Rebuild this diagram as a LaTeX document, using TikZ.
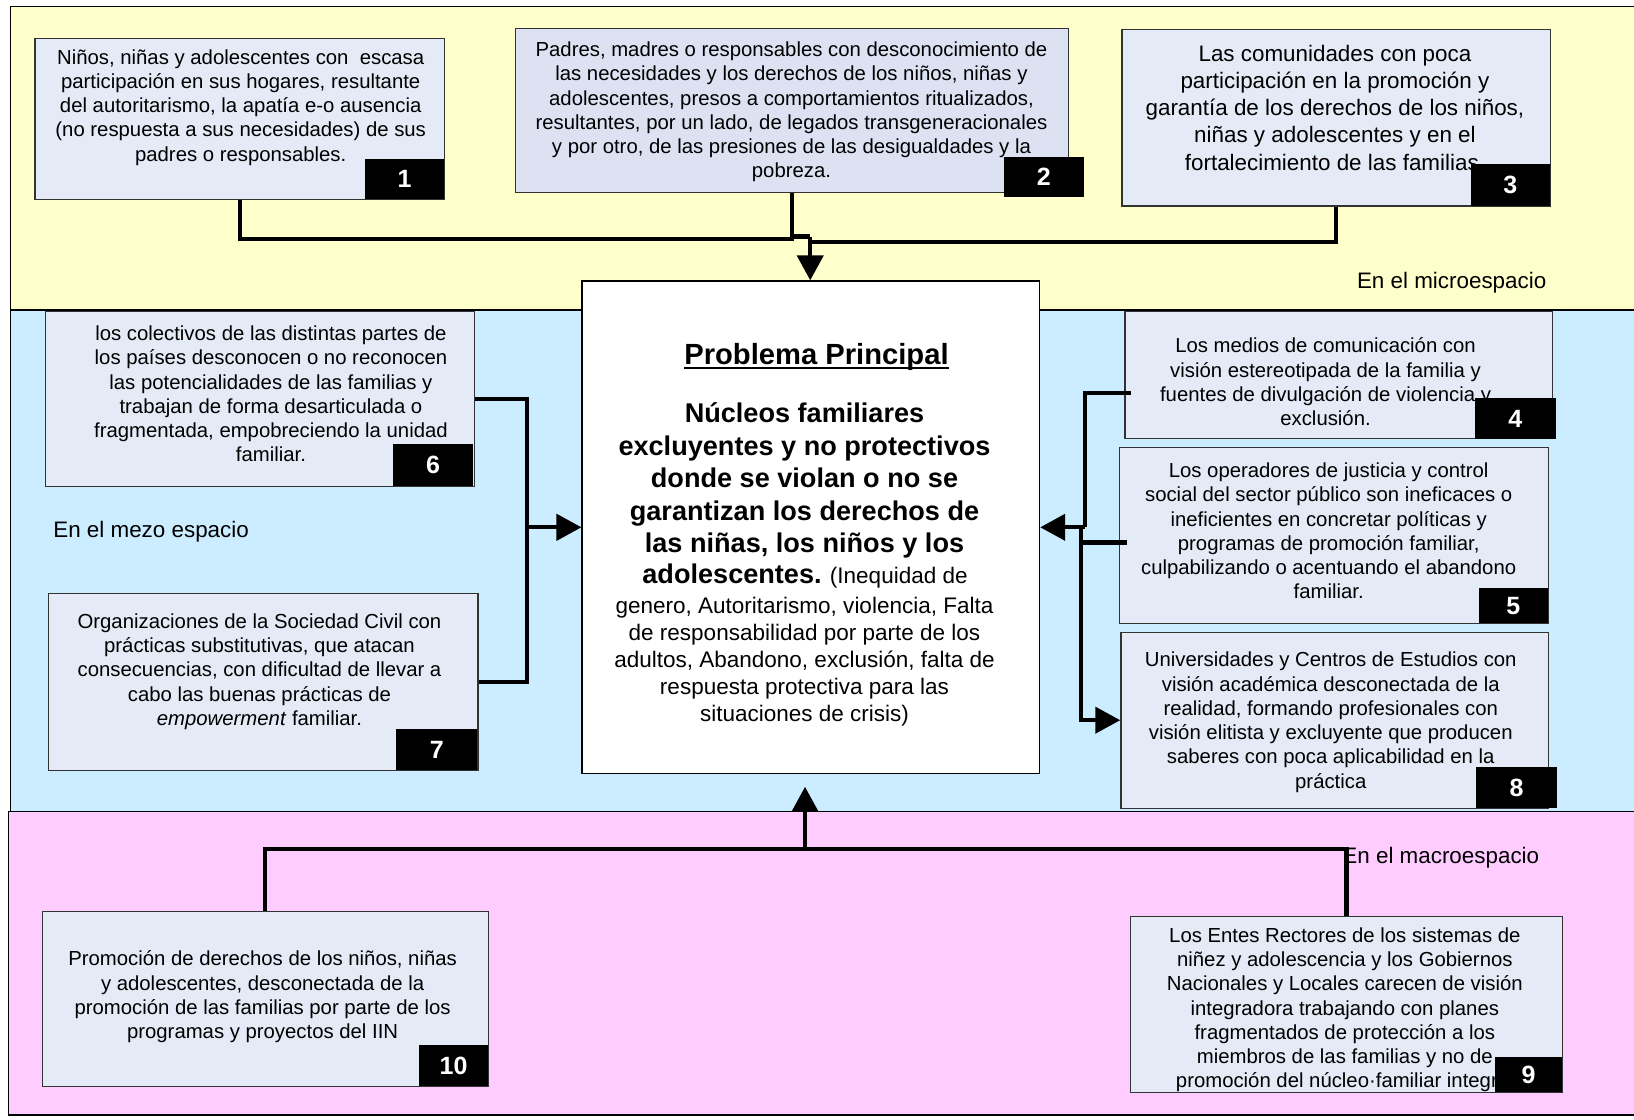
\documentclass[tikz,border=0pt]{standalone}
\usepackage{fontspec}
\setmainfont{Liberation Sans}
\usetikzlibrary{arrows.meta}
\definecolor{bandY}{RGB}{255,255,204}
\definecolor{bandB}{RGB}{204,236,255}
\definecolor{bandP}{RGB}{255,204,255}
\definecolor{boxfill}{RGB}{228,234,246}
\definecolor{boxfillB}{RGB}{221,226,243}
\begin{document}
\begin{tikzpicture}[x=1pt,y=-1pt,
  band/.style={draw=black,line width=1.2pt},
  cbox/.style={draw=black!80,line width=1.2pt,fill=boxfill,inner sep=0pt,anchor=north west},
  numbox/.style={fill=black,text=white,font=\fontsize{24}{24}\selectfont\bfseries,inner sep=0pt,anchor=north west},
  txt/.style={align=center,inner sep=0pt,font=\fontsize{19.5}{23.3}\selectfont},
  bigtxt/.style={align=center,inner sep=0pt,font=\fontsize{21.5}{26}\selectfont},
  lbl/.style={inner sep=0pt,anchor=base west,font=\fontsize{21.5}{26}\selectfont},
  conn/.style={line width=4pt,line join=miter},
  arr/.style={-{Triangle[length=24pt,width=25pt]}},
]
\useasboundingbox (0,0) rectangle (1568,1074);
% bands
\path[band,fill=bandY] (10,6) rectangle (1590,297.5);
\path[band,fill=bandB] (10,297.5) rectangle (1590,779);
\path[band,fill=bandP] (8,779) rectangle (1590,1070);

% boxes
\node[cbox,minimum width=393pt,minimum height=155pt] (b1) at (33,36) {};
\node[cbox,fill=boxfillB,minimum width=531pt,minimum height=157pt] (b2) at (494,27) {};
\node[cbox,minimum width=411pt,minimum height=169pt] (b3) at (1076,28) {};
\node[cbox,minimum width=410pt,minimum height=122.5pt] (b4) at (1079,298) {};
\node[cbox,minimum width=411pt,minimum height=169pt] (b5) at (1074,429) {};
\node[cbox,minimum width=412pt,minimum height=168pt] (b6) at (43,298) {};
\node[cbox,minimum width=412pt,minimum height=170pt] (b7) at (46,569) {};
\node[cbox,minimum width=410pt,minimum height=169pt] (b8) at (1075,606) {};
\node[cbox,minimum width=415pt,minimum height=169pt] (b9) at (1084,879) {};
\node[cbox,minimum width=428pt,minimum height=168pt] (b10) at (40,874) {};
\node[cbox,fill=white,draw=black,minimum width=439pt,minimum height=472.5pt] (pp) at (558,269) {};

% labels
\node[lbl] (lmicro) at (1302,277) {En el microespacio};
\node[lbl] (lmezo) at (51,516) {En el mezo espacio};
\node[lbl] (lmacro) at (1288,829) {En el macroespacio};

% connectors
\coordinate (tL) at (761.5,229.5);
\coordinate (tJ) at (777.5,227);
\coordinate (tR) at (775.5,232);
\draw[conn] (b1.south) |- (tL);
\draw[conn] (b2.south) |- (tJ);
\draw[conn] (b3.south) |- (tR);
\draw[conn,arr] (tJ) -- (tJ |- pp.north);

\coordinate (lJ) at (506,506);
\draw[conn] (b6.east) -| (lJ);
\draw[conn] (b7.east) -| (lJ);
\draw[conn,arr] (lJ) -- (lJ -| pp.west);

\coordinate (rJ) at (1041,506);
\coordinate (rK) at (1037,506);
\coordinate (r4) at ([yshift=-17pt,xshift=6pt]b4.west);
\coordinate (r5) at ([yshift=-6.5pt,xshift=7pt]b5.west);
\draw[conn] (r4) -| (rJ);
\draw[conn,arr] (rJ) -- (rJ -| pp.east);
\draw[conn] (r5) -| (rK);
\draw[conn,arr] (rK) |- (b8.west);

\coordinate (mJ) at (772.5,815);
\coordinate (mT) at (772.5,755);
\draw[conn] (b10.north) |- (mJ);
\draw[conn] (b9.north) |- (mJ);
\draw[conn,arr] (mJ) -- (mT);

% texts
\node[txt] (t1) at (231,103) {Niños, niñas y adolescentes con~ escasa\\participación en sus hogares, resultante\\del autoritarismo, la apatía e-o ausencia\\(no respuesta a sus necesidades) de sus\\padres o responsables.};
\node[txt] (t2) at (759.5,107.5) {Padres, madres o responsables con desconocimiento de\\las necesidades y los derechos de los niños, niñas y\\adolescentes, presos a comportamientos ritualizados,\\resultantes, por un lado, de legados transgeneracionales\\y por otro, de las presiones de las desigualdades y la\\pobreza.};
\node[bigtxt] (t3) at (1281,103.5) {Las comunidades con poca\\participación en la promoción y\\garantía de los derechos de los niños,\\niñas y adolescentes y en el\\fortalecimiento de las familias.};
\node[txt] (t4) at (1272,366.5) {Los medios de comunicación con\\visión estereotipada de la familia y\\fuentes de divulgación de violencia y\\exclusión.};
\node[txt] (t5) at (1275,509.5) {Los operadores de justicia y control\\social del sector público son ineficaces o\\ineficientes en concretar políticas y\\programas de promoción familiar,\\culpabilizando o acentuando el abandono\\familiar.};
\node[txt] (t6) at (260,378) {los colectivos de las distintas partes de\\los países desconocen o no reconocen\\las potencialidades de las familias y\\trabajan de forma desarticulada o\\fragmentada, empobreciendo la unidad\\familiar.};
\node[txt] (t7) at (249,644.5) {Organizaciones de la Sociedad Civil con\\prácticas substitutivas, que atacan\\consecuencias, con dificultad de llevar a\\cabo las buenas prácticas de\\\textit{empowerment} familiar.};
\node[txt] (t8) at (1277,693) {Universidades y Centros de Estudios con\\visión académica desconectada de la\\realidad, formando profesionales con\\visión elitista y excluyente que producen\\saberes con poca aplicabilidad en la\\práctica};
\node[txt] (t9) at (1290.5,969) {Los Entes Rectores de los sistemas de\\niñez y adolescencia y los Gobiernos\\Nacionales y Locales carecen de visión\\integradora trabajando con planes\\fragmentados de protección a los\\miembros de las familias y no de\\promoción del núcleo·familiar integral};
\node[txt] (t10) at (252,956.5) {Promoción de derechos de los niños, niñas\\y adolescentes, desconectada de la\\promoción de las familias por parte de los\\programas y proyectos del IIN};

% central text
\node[inner sep=0pt,anchor=base,font=\fontsize{28}{34}\selectfont\bfseries] (title) at (783.5,350) {Problema Principal};
\draw[line width=2pt] ([yshift=-3.5pt]title.base west) -- ([yshift=-3.5pt]title.base east);
\node[align=center,inner sep=0pt,font=\fontsize{26}{31.2}\selectfont\bfseries] (pbold) at (772,461) {Núcleos familiares\\excluyentes y no protectivos\\donde se violan o no se\\garantizan los derechos de\\las niñas, los niños y los};
\node[inner sep=0pt,anchor=base,font=\fontsize{21.6}{26}\selectfont] (pmix) at (772.5,560) {{\bfseries\fontsize{26}{31.2}\selectfont adolescentes.} (Inequidad de};
\node[align=center,inner sep=0pt,font=\fontsize{21.6}{26}\selectfont] (preg) at (772,635) {genero, Autoritarismo, violencia, Falta\\de responsabilidad por parte de los\\adultos, Abandono, exclusión, falta de\\respuesta protectiva para las\\situaciones de crisis)};

% number boxes
\node[numbox,minimum width=76pt,minimum height=39pt] (n1) at (350,152) {1};
\node[numbox,minimum width=77pt,minimum height=39pt] (n2) at (963,150) {2};
\node[numbox,minimum width=76pt,minimum height=40pt] (n3) at (1411,157) {3};
\node[numbox,minimum width=78pt,minimum height=39pt] (n4) at (1415,382) {4};
\node[numbox,minimum width=66pt,minimum height=34pt] (n5) at (1419,564) {5};
\node[numbox,minimum width=77pt,minimum height=40pt] (n6) at (377,426) {6};
\node[numbox,minimum width=78pt,minimum height=40pt] (n7) at (380,699) {7};
\node[numbox,minimum width=78pt,minimum height=39pt] (n8) at (1416,736) {8};
\node[numbox,minimum width=65pt,minimum height=34pt] (n9) at (1434,1014) {9};
\node[numbox,minimum width=66pt,minimum height=39pt] (n10) at (402,1003) {10};
\end{tikzpicture}
\end{document}
